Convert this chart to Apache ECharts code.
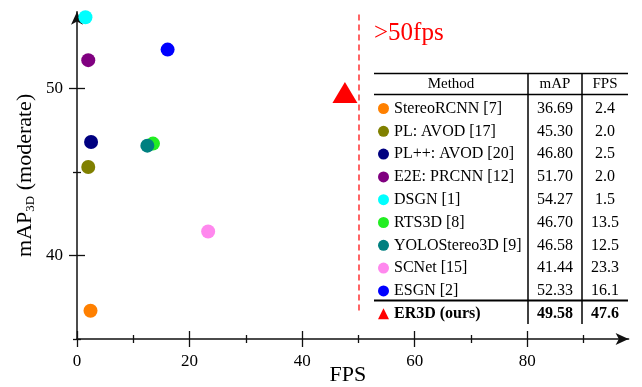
<!DOCTYPE html>
<html>
<head>
<meta charset="utf-8">
<script src="https://cdn.jsdelivr.net/npm/echarts@6/dist/echarts.min.js"></script>
<style>
  html, body { margin: 0; padding: 0; background: #fff; }
  #chart { width: 642px; height: 387px; }
</style>
</head>
<body>
<div id="chart"></div>
<script>
// data
const methods = ['StereoRCNN [7]', 'PL: AVOD [17]', 'PL++: AVOD [20]', 'E2E: PRCNN [12]', 'DSGN [1]',
  'RTS3D [8]', 'YOLOStereo3D [9]', 'SCNet [15]', 'ESGN [2]', 'ER3D (ours)']
const mapValues = [36.69, 45.30, 46.80, 51.70, 54.27, 46.70, 46.58, 41.44, 52.33, 49.58]
const fpsValues = [2.4, 2.0, 2.5, 2.0, 1.5, 13.5, 12.5, 23.3, 16.1, 47.6]
const tableHeader = ['Method', 'mAP', 'FPS']
const xMajorTicks = [0, 20, 40, 60, 80]
const xMinorTicks = [10, 30, 50, 70, 90]
const yMajorTicks = [40, 50]
const yMinorTicks = [35, 45]
const fpsThreshold = 50
const thresholdRange = [36.7, 54.5]
const thresholdText = '>50fps'

const colors = ['#ff8000', '#808000', '#000080', '#800080', '#00ffff',
  '#22ee22', '#008080', '#ff88ee', '#0000ff', '#ff0000']
const serif = 'Liberation Serif'
const last = methods.length - 1

const chart = echarts.init(document.getElementById('chart'))

// ticks cross the axis line, so each axis is drawn a few times (outside + inside)
function tickAxis (extra, values, len, inside) {
  return Object.assign({
    type: 'value',
    axisLine: { show: false },
    axisLabel: { show: false },
    splitLine: { show: false },
    axisTick: { show: true, inside: inside, length: len, customValues: values,
      lineStyle: { color: '#111', width: 1.3 } }
  }, extra)
}

const xBase = { min: 0, max: 98, position: 'bottom' }
const yBase = { min: 35, max: 54.6, position: 'left' }

const xAxes = [
  Object.assign({}, tickAxis(xBase, xMajorTicks, 8, false), {
    name: 'FPS',
    nameLocation: 'middle',
    nameGap: 25,
    nameMoveOverlap: false,
    nameTextStyle: { fontFamily: serif, fontSize: 22, color: '#000', padding: [0, 10, 0, 0] },
    axisLine: { show: true, symbol: ['none', 'arrow'], symbolSize: [9, 13],
      lineStyle: { color: '#111', width: 1.5 } },
    axisLabel: { show: true, customValues: xMajorTicks, margin: 14,
      fontFamily: serif, fontSize: 17, color: '#000' }
  }),
  tickAxis(xBase, xMajorTicks, 8, true),
  tickAxis(xBase, xMinorTicks, 4, false),
  tickAxis(xBase, xMinorTicks, 4, true)
]

const yAxes = [
  Object.assign({}, tickAxis(yBase, yMajorTicks, 8, false), {
    name: 'mAP{sub|3D} (moderate)',
    nameLocation: 'middle',
    nameGap: 40,
    nameMoveOverlap: false,
    nameTextStyle: { fontFamily: serif, fontSize: 22, color: '#000', lineHeight: 24,
      rich: { sub: { fontFamily: serif, fontSize: 13, color: '#000', verticalAlign: 'bottom', lineHeight: 24 } } },
    axisLine: { show: true, symbol: ['none', 'arrow'], symbolSize: [9, 13],
      lineStyle: { color: '#111', width: 1.5 } },
    axisLabel: { show: true, customValues: yMajorTicks, margin: 14,
      fontFamily: serif, fontSize: 17, color: '#000' }
  }),
  tickAxis(yBase, yMajorTicks, 8, true),
  tickAxis(yBase, yMinorTicks, 4, false),
  tickAxis(yBase, yMinorTicks, 4, true)
]

const series = methods.map((m, i) => {
  const s = {
    name: m,
    type: 'scatter',
    data: [[fpsValues[i], mapValues[i]]],
    symbol: 'circle',
    symbolSize: 14,
    itemStyle: { color: colors[i], opacity: 1 },
    emphasis: { disabled: true }
  }
  if (i === last) {
    s.symbol = 'triangle'
    s.symbolSize = [25, 21]
    s.symbolOffset = [0, -3]
    s.markLine = {
      silent: true,
      symbol: 'none',
      label: { show: false },
      lineStyle: { color: '#ff3333', type: [6, 4], width: 1.5 },
      data: [[{ coord: [fpsThreshold, thresholdRange[0]] }, { coord: [fpsThreshold, thresholdRange[1]] }]]
    }
  }
  return s
})

const richBase = { fontFamily: serif, color: '#000', fontSize: 16 }
const rich = {
  n: Object.assign({ width: 134 }, richBase),
  v: Object.assign({ width: 54, align: 'center' }, richBase),
  f: Object.assign({ width: 46, align: 'center' }, richBase),
  nb: Object.assign({ width: 134, fontWeight: 'bold' }, richBase),
  vb: Object.assign({ width: 54, align: 'center', fontWeight: 'bold' }, richBase),
  fb: Object.assign({ width: 46, align: 'center', fontWeight: 'bold' }, richBase)
}

const line = (x1, y1, x2, y2, w) => ({
  type: 'line', silent: true,
  shape: { x1, y1, x2, y2 },
  style: { stroke: '#000', lineWidth: w }
})
const headerX = [451, 555, 605]

chart.setOption({
  animation: false,
  grid: { left: 77, right: 13.4, top: 11.7, bottom: 48, outerBoundsMode: 'none' },
  xAxis: xAxes,
  yAxis: yAxes,
  legend: {
    orient: 'vertical',
    left: 378,
    top: 100.5,
    itemGap: 6.8,
    itemWidth: 11,
    itemHeight: 11,
    selectedMode: false,
    padding: 0,
    data: methods.map((m, i) => ({ name: m, icon: i === last ? 'triangle' : 'circle' })),
    formatter: name => {
      const i = methods.indexOf(name)
      const b = i === last ? 'b' : ''
      return `{n${b}|${name}}{v${b}|${mapValues[i].toFixed(2)}}{f${b}|${fpsValues[i].toFixed(1)}}`
    },
    textStyle: { rich: rich }
  },
  graphic: [
    line(374, 73.5, 628, 73.5, 1.3),
    line(374, 94.5, 628, 94.5, 1.3),
    line(374, 300.5, 628, 300.5, 2),
    line(528, 73, 528, 324, 1.5),
    line(582, 73, 582, 324, 1.5),
    ...tableHeader.map((t, i) => ({
      type: 'text', silent: true, x: headerX[i], y: 84,
      style: { text: t, font: `15px "${serif}"`, fill: '#000', align: 'center', verticalAlign: 'middle' }
    })),
    {
      type: 'text', silent: true, x: 374, y: 33,
      style: { text: thresholdText, font: `25px "${serif}"`, fill: '#ff0000', verticalAlign: 'middle' }
    }
  ],
  series: series
})
</script>
</body>
</html>
